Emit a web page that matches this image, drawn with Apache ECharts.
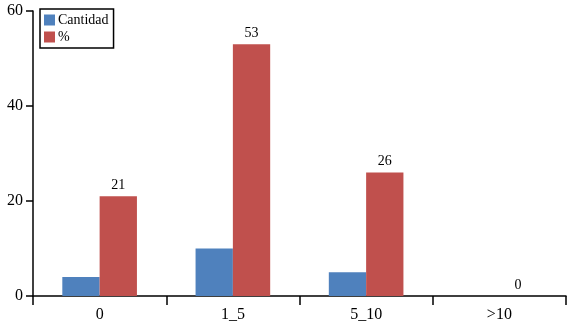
<!DOCTYPE html>
<html><head><meta charset="utf-8">
<script src="https://cdn.jsdelivr.net/npm/echarts@6/dist/echarts.min.js"></script>
<style>html,body{margin:0;padding:0;background:#fff}#c{width:568px;height:323px}</style>
</head><body><div id="c"></div>
<script>
const categories = ['0', '1_5', '5_10', '>10'];
const cantidad = [4, 10, 5, 0];
const porcentaje = [21, 53, 26, 0];
const yTicks = [0, 20, 40, 60];

const chart = echarts.init(document.getElementById('c'), null, {renderer: 'canvas'});
const font = 'Liberation Serif';
chart.setOption({
  animation: false,
  textStyle: {fontFamily: font},
  grid: {left: 33, right: 2, top: 11, bottom: 26},
  legend: {
    orient: 'vertical', left: 40, top: 9,
    data: ['Cantidad', '%'],
    borderColor: '#000', borderWidth: 1.5,
    padding: [4, 5, 4, 4], itemGap: 3,
    itemWidth: 11, itemHeight: 11,
    icon: 'rect',
    textStyle: {fontFamily: font, fontSize: 14, color: '#000', padding: [0, 0, 0, -2]}
  },
  xAxis: {
    type: 'category', data: categories,
    axisLine: {lineStyle: {color: '#000', width: 1.5}},
    axisTick: {show: true, length: 9, inside: false, lineStyle: {color: '#000', width: 1.5}},
    axisLabel: {fontFamily: font, fontSize: 16, color: '#000', margin: 11}
  },
  yAxis: {
    type: 'value', min: yTicks[0], max: yTicks[yTicks.length - 1], interval: 20,
    axisLine: {show: true, lineStyle: {color: '#000', width: 1.5}},
    axisTick: {show: true, length: 7, lineStyle: {color: '#000', width: 1.5}},
    splitLine: {show: false},
    axisLabel: {fontFamily: font, fontSize: 16, color: '#000', margin: 10, padding: [3, 0, 0, 0]}
  },
  series: [
    {name: 'Cantidad', type: 'bar', data: cantidad, barGap: '0%', barCategoryGap: '44%',
     itemStyle: {color: '#4F81BD'}},
    {name: '%', type: 'bar', data: porcentaje, barGap: '0%', barCategoryGap: '44%',
     itemStyle: {color: '#C0504D'},
     label: {show: true, position: 'top', distance: 4, fontFamily: font, fontSize: 14, color: '#000'}}
  ]
});
</script></body></html>
